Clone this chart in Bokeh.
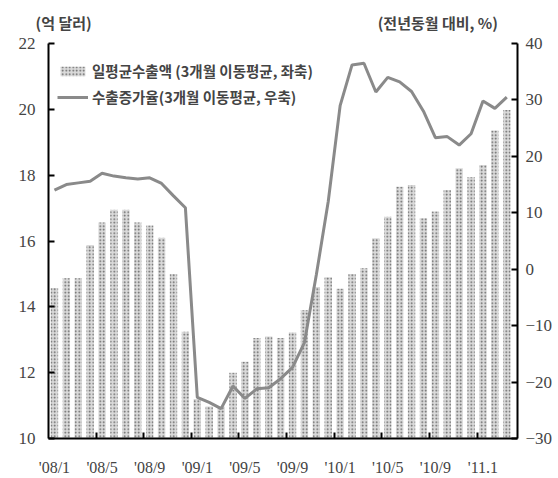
from bokeh.plotting import figure
from bokeh.models import Range1d, LinearAxis, FixedTicker, Legend, LegendItem, Title, ColumnDataSource
from bokeh.embed import file_html
from bokeh.resources import INLINE

# 39 months: 2008/1 .. 2011/3
months = ["%02d/%d" % (y, m) for y in (8, 9, 10) for m in range(1, 13)] + ["11/1", "11/2", "11/3"]
export_avg = [14.57, 14.87, 14.87, 15.88, 16.56, 16.95, 16.95, 16.56, 16.47, 16.10, 15.00, 13.24,
              11.20, 10.97, 10.97, 12.00, 12.33, 13.05, 13.10, 13.05, 13.22, 13.90, 14.60, 14.90,
              14.55, 15.00, 15.17, 16.08, 16.74, 17.65, 17.70, 16.69, 16.90, 17.55, 18.21, 17.94,
              18.31, 19.36, 19.98]
growth = [14.0, 15.0, 15.3, 15.6, 17.0, 16.5, 16.2, 16.0, 16.2, 15.2, 13.0, 10.9,
          -22.7, -23.6, -24.7, -20.7, -22.9, -21.2, -21.0, -19.4, -17.4, -13.0, -1.0, 12.0,
          29.0, 36.2, 36.5, 31.4, 34.0, 33.2, 31.5, 28.0, 23.3, 23.5, 22.0, 24.0,
          29.8, 28.5, 30.5]
tick_labels = ["'08/1", "'08/5", "'08/9", "'09/1", "'09/5", "'09/9", "'10/1", "'10/5", "'10/9", "'11.1"]
left_ticks = [10, 12, 14, 16, 18, 20, 22]
right_ticks = [-30, -20, -10, 0, 10, 20, 30, 40]
left_unit = "(억 달러)"
right_unit = "(전년동월 대비, %)"

idx = list(range(len(months)))
src = ColumnDataSource(dict(x=idx, v=export_avg, g=growth))

NUM_FONT = "Liberation Sans Narrow"
KR_FONT = "Noto Sans CJK KR"

p = figure(width=558, height=478, output_backend="svg", toolbar_location=None,
           x_range=Range1d(-0.5, 38.9), y_range=Range1d(10, 22),
           min_border_left=48, min_border_right=41, min_border_top=43, min_border_bottom=40)
p.extra_y_ranges = {"pct": Range1d(-30, 40)}
p.xgrid.visible = False
p.ygrid.visible = False
p.outline_line_color = None
p.background_fill_color = "white"
p.border_fill_color = "white"

bars = p.vbar(x="x", top="v", bottom=10, width=0.62, source=src,
              fill_color="#dadada", line_color=None,
              hatch_pattern="dot", hatch_color="#5c5c5c", hatch_scale=3.5, hatch_weight=1.2)
line = p.line(x="x", y="g", source=src, y_range_name="pct", line_color="#8a8a8a", line_width=3)

# axes styling
xa = p.xaxis[0]
xa.ticker = FixedTicker(ticks=[0, 4, 8, 12, 16, 20, 24, 28, 32, 36],
                        minor_ticks=[3.5, 7.5, 11.5, 15.5, 19.5, 23.5, 27.5, 31.5, 35.5])
xa.major_label_overrides = {i * 4: t for i, t in enumerate(tick_labels)}
xa.major_tick_line_color = None
xa.minor_tick_in = 6
xa.minor_tick_out = 0
xa.minor_tick_line_width = 2
xa.minor_tick_line_color = "black"
xa.axis_line_width = 2
xa.major_label_text_font = NUM_FONT
xa.major_label_text_font_size = "16px"
xa.major_label_standoff = 14

ya = p.yaxis[0]
ya.ticker = FixedTicker(ticks=left_ticks)
ya.major_tick_in = 6
ya.major_tick_out = 0
ya.major_tick_line_width = 2
ya.minor_tick_line_color = None
ya.axis_line_width = 2
ya.major_label_text_font = NUM_FONT
ya.major_label_text_font_size = "17px"
ya.major_label_standoff = 13

ra = LinearAxis(y_range_name="pct", ticker=FixedTicker(ticks=right_ticks))
ra.major_tick_in = 6
ra.major_tick_out = 0
ra.major_tick_line_width = 2
ra.minor_tick_line_color = None
ra.axis_line_width = 2
ra.major_label_text_font = NUM_FONT
ra.major_label_text_font_size = "17px"
ra.major_label_standoff = 8
p.add_layout(ra, "right")

legend = Legend(items=[LegendItem(label="일평균수출액 (3개월 이동평균, 좌축)", renderers=[bars]),
                       LegendItem(label="수출증가율(3개월 이동평균, 우축)", renderers=[line])],
                location=(9, 331), padding=0, spacing=5,
                glyph_width=31, glyph_height=12, label_height=20, label_standoff=4,
                label_text_font=KR_FONT, label_text_font_size="14.5px", label_text_font_style="bold",
                background_fill_alpha=0, border_line_color=None)
p.add_layout(legend)

# unit captions above both axes, on one line
gap = "\u00a0" * 84
p.add_layout(Title(text=left_unit + gap + right_unit, align="left", offset=-13, standoff=18,
                   vertical_align="top",
                   text_font=KR_FONT, text_font_size="15px", text_font_style="bold"), "above")

open("out.html", "w").write(file_html(p, INLINE))
